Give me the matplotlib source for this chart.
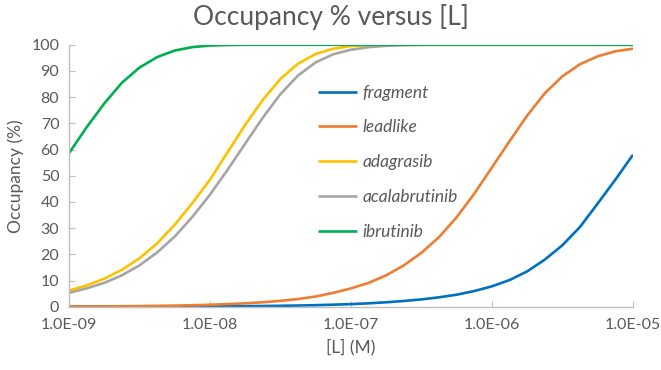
import numpy as np
import matplotlib
matplotlib.use("Agg")
import matplotlib.pyplot as plt
from matplotlib.ticker import FixedLocator, NullLocator, FuncFormatter

# ligand concentration exponents (log10 M), eighth-decade steps from 1e-9 to 1e-5
log_conc = [-9.0, -8.875, -8.75, -8.625, -8.5, -8.375, -8.25, -8.125,
            -8.0, -7.875, -7.75, -7.625, -7.5, -7.375, -7.25, -7.125,
            -7.0, -6.875, -6.75, -6.625, -6.5, -6.375, -6.25, -6.125,
            -6.0, -5.875, -5.75, -5.625, -5.5, -5.375, -5.25, -5.125, -5.0]
conc = [10.0 ** v for v in log_conc]

# occupancy (%)
fragment = [0.02, 0.02, 0.03, 0.04, 0.05, 0.06, 0.08, 0.1,
            0.13, 0.17, 0.22, 0.28, 0.36, 0.46, 0.6, 0.78,
            1.0, 1.3, 1.7, 2.2, 2.8, 3.6, 4.6, 6.0,
            7.8, 10.2, 13.5, 18.0, 23.5, 30.5, 39.4, 48.5, 58.0]
leadlike = [0.08, 0.11, 0.14, 0.19, 0.25, 0.33, 0.43, 0.57,
            0.75, 1.0, 1.3, 1.7, 2.25, 2.95, 3.9, 5.3,
            7.0, 9.1, 12.0, 15.8, 20.6, 26.6, 34.2, 43.2,
            53.2, 63.2, 73.0, 81.5, 88.0, 92.6, 95.6, 97.5, 98.5]
adagrasib = [6.2, 8.1, 10.7, 14.1, 18.5, 24.2, 31.3, 39.6,
             48.5, 59.0, 69.5, 79.0, 87.0, 92.8, 96.5, 98.5,
             99.5, 99.85, 100, 100, 100, 100, 100, 100,
             100, 100, 100, 100, 100, 100, 100, 100, 100]
acalabrutinib = [5.3, 7.0, 9.1, 12.0, 15.8, 20.7, 26.8, 34.3,
                 42.8, 52.3, 62.3, 72.2, 81.2, 88.3, 93.3, 96.4,
                 98.1, 99.1, 99.6, 99.85, 100, 100, 100, 100,
                 100, 100, 100, 100, 100, 100, 100, 100, 100]
ibrutinib = [58.6, 68.5, 77.6, 85.5, 91.3, 95.3, 97.8, 99.1,
             99.7, 99.9, 100, 100, 100, 100, 100, 100,
             100, 100, 100, 100, 100, 100, 100, 100,
             100, 100, 100, 100, 100, 100, 100, 100, 100]

names = ["fragment", "leadlike", "adagrasib", "acalabrutinib", "ibrutinib"]
series = [fragment, leadlike, adagrasib, acalabrutinib, ibrutinib]
colors = ["#0070C0", "#ED7D31", "#FFC000", "#A5A5A5", "#00B050"]

x_ticks = [1e-9, 1e-8, 1e-7, 1e-6, 1e-5]
y_ticks = [0, 10, 20, 30, 40, 50, 60, 70, 80, 90, 100]

plt.rcParams['font.family'] = ['Lato', 'DejaVu Sans']
txt = "#595959"
axc = "#BFBFBF"

fig = plt.figure(figsize=(6.61, 3.70), dpi=100)
ax = fig.add_axes([0.1044, 0.171, 0.8532, 0.708])

for name, vals, c in zip(names, series, colors):
    ax.plot(conc, vals, color=c, lw=1.9, label=name, solid_capstyle='butt',
            solid_joinstyle='round')

ax.set_xscale('log')
ax.set_xlim(1e-9, 1e-5)
ax.set_ylim(0, 100)
ax.xaxis.set_major_locator(FixedLocator(x_ticks))
ax.xaxis.set_minor_locator(NullLocator())
ax.xaxis.set_major_formatter(FuncFormatter(lambda v, p: "%.1E" % v))
ax.set_yticks(y_ticks)

for s in ["top", "right"]:
    ax.spines[s].set_visible(False)
for s in ["left", "bottom"]:
    ax.spines[s].set_color(axc)
    ax.spines[s].set_linewidth(1.0)
ax.tick_params(axis='both', direction='in', length=4, color=axc,
               labelcolor=txt, labelsize=11.5)
ax.tick_params(axis='x', pad=8)
ax.tick_params(axis='y', pad=7)

ax.set_xlabel("[L] (M)", color=txt, fontsize=12.5, labelpad=5)
ax.set_ylabel("Occupancy (%)", color=txt, fontsize=12.5, labelpad=5)
fig.suptitle("Occupancy % versus [L]", color=txt, fontsize=19, y=0.99)

leg = ax.legend(loc='upper left', bbox_to_anchor=(0.481, 0.771),
                bbox_transform=fig.transFigure, frameon=False,
                fontsize=12.5, handlelength=2.25, handletextpad=0.3,
                labelspacing=1.08, borderpad=0, borderaxespad=0)
for t in leg.get_texts():
    t.set_color(txt)
    t.set_style('italic')

fig.savefig("out.png", dpi=100)
